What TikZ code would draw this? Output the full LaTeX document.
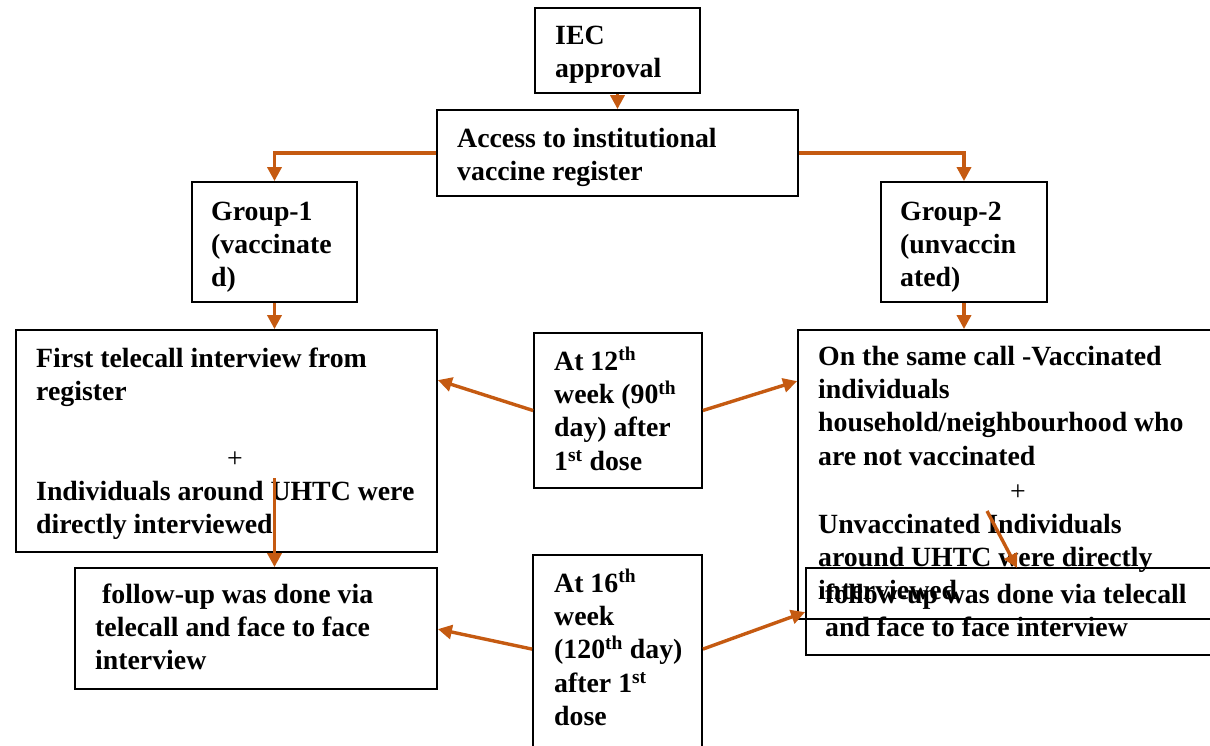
\documentclass[tikz,border=0pt]{standalone}
\usepackage{fontspec}
\setmainfont{Liberation Serif}
\usetikzlibrary{arrows.meta,calc}
\definecolor{arrc}{HTML}{C55A11}
\tikzset{
  box/.style={draw=black, line width=1.8pt, inner sep=0pt, fill=none},
  arr/.style={draw=arrc, line width=3.4pt, -{Triangle[length=14pt,width=14pt]}},
  txt/.style={inner sep=0pt, anchor=base west, align=left, font=\fontsize{27.8}{33.4}\selectfont\bfseries},
  plus/.style={inner sep=0pt, anchor=base, font=\fontsize{27.8}{33.4}\selectfont},
}
\begin{document}
\begin{tikzpicture}[x=1pt,y=-1pt]
\useasboundingbox (0,0) rectangle (1210,745);
% boxes
\node[box, minimum width=165pt, minimum height=85pt] (iec) at (617.5,50.5) {};
\node[box, minimum width=361pt, minimum height=86pt] (access) at (617.5,153) {};
\node[box, minimum width=165pt, minimum height=120pt] (g1) at (274.5,242) {};
\node[box, minimum width=166pt, minimum height=120pt] (g2) at (964,242) {};
\node[box, minimum width=421pt, minimum height=222pt] (first) at (226.5,441) {};
\node[box, minimum width=414pt, minimum height=289pt] (right) at (1005,474.5) {};
\node[box, minimum width=362pt, minimum height=121pt] (fl) at (256,628.5) {};
\node[box, minimum width=406pt, minimum height=87pt] (fr) at (1009,611.5) {};
\node[box, minimum width=168pt, minimum height=155pt] (a12) at (618,410.5) {};
\node[box, minimum width=169pt, minimum height=193pt] (a16) at (617.5,651.5) {};
% texts (anchor = baseline of the last line)
\node[txt] (tiec) at (555,77.4) {IEC\\approval};
\node[txt] (tacc) at (457,180.4) {Access to institutional\\vaccine register};
\node[txt] (tg1) at (211,286.8) {Group-1\\(vaccinate\\d)};
\node[txt] (tg2) at (900,286.8) {Group-2\\(unvaccin\\ated)};
\node[txt] (tf1) at (36,400.4) {First telecall interview from\\register};
\node[plus] (pl1) at (235,467) {+};
\node[txt] (tf2) at (36,533.4) {Individuals around UHTC were\\directly interviewed};
\node[txt] (tfl) at (95,669.8) {\hspace{7pt}follow-up was done via\\telecall and face to face\\interview};
\node[txt] (ta12) at (554,470.2) {At 12\textsuperscript{th}\\week (90\textsuperscript{th}\\day) after\\1\textsuperscript{st} dose};
\node[txt] (ta16) at (554,725.6) {At 16\textsuperscript{th}\\week\\(120\textsuperscript{th} day)\\after 1\textsuperscript{st}\\dose};
\node[txt] (tr1) at (818,465.2) {On the same call -Vaccinated\\individuals\\household/neighbourhood who\\are not vaccinated};
\node[plus] (pl2) at (1018,500) {+};
\node[txt] (tr2) at (818,599.8) {Unvaccinated Individuals\\around UHTC were directly\\interviewed};
\node[txt] (tfr) at (818,636.4) {\hspace{7pt}follow-up was done via telecall\\\hspace{7pt}and face to face interview};
% connectors
\draw[arr] (iec.south) -- (access.north);
\draw[arr] (access.west) -| (g1.north);
\draw[arr] (access.east) -| (g2.north);
\draw[arr] (g1.south) -- (g1.south |- first.north);
\draw[arr] (g2.south) -- (g2.south |- right.north);
\draw[arr] (a12.west) -- ($(first.north east)+(0,51)$);
\draw[arr] (a12.east) -- ($(right.north west)+(0,52)$);
\draw[arr] ($(a16.north west)+(0,95)$) -- ($(fl.north east)+(0,62)$);
\draw[arr] ($(a16.north east)+(0,95)$) -- ($(fr.north west)+(0,45)$);
\coordinate (s1) at (274.5,478);
\draw[arr] (s1) -- (s1 |- fl.north);
\coordinate (s2) at (987,511);
\coordinate (e2) at (1017,568);
\draw[arr] (s2) -- (e2);
\end{tikzpicture}
\end{document}
